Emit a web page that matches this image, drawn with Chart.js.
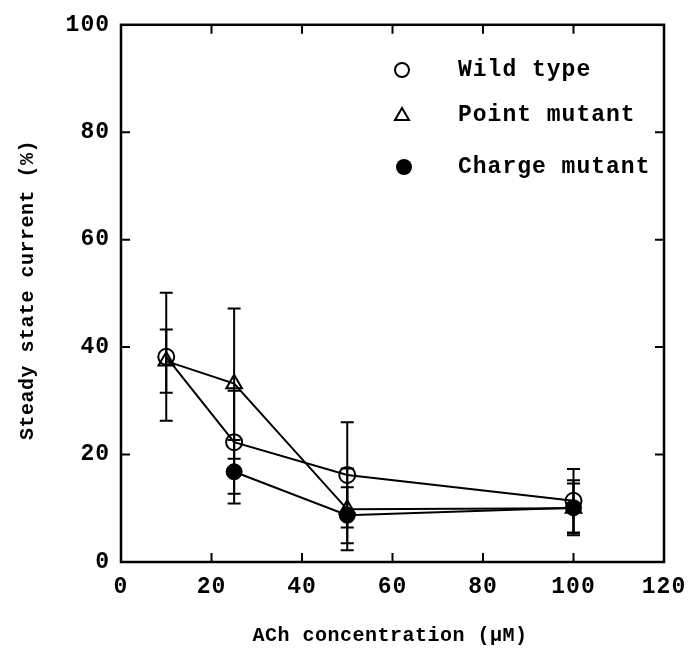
<!DOCTYPE html>
<html>
<head>
<meta charset="utf-8">
<style>
  html, body { margin: 0; padding: 0; background: #fff; }
  #wrap { width: 700px; height: 652px; position: relative; }
</style>
<script src="https://cdn.jsdelivr.net/npm/chart.js@4"></script>
</head>
<body>
<div id="wrap"><canvas id="c" width="700" height="652"></canvas></div>
<script>
// ---- data ----
const xTicks = [0, 20, 40, 60, 80, 100, 120];
const yTicks = [0, 20, 40, 60, 80, 100];

const wildX = [10, 25, 50, 100];
const wildY = [38.2, 22.3, 16.2, 11.4];
const wildErr = [11.9, 9.6, 9.8, 5.9];

const pointX = [10, 25, 50, 100];
const pointY = [37.4, 33.2, 9.8, 10.0];
const pointErr = [5.9, 14.0, 7.6, 4.6];

const chargeX = [25, 50, 100];
const chargeY = [16.8, 8.7, 10.1];
const chargeErr = [5.9, 5.2, 5.1];

const legendLabels = ['Wild type', 'Point mutant', 'Charge mutant'];
const xTitle = 'ACh concentration (\u03BCM)';
const yTitle = 'Steady state current (%)';

const toPts = (xs, ys) => xs.map((x, i) => ({ x: x, y: ys[i] }));

const FONT = 'Liberation Mono, DejaVu Sans Mono, monospace';

const spacingPlugin = {
  id: 'spacing',
  beforeUpdate(chart) { chart.ctx.letterSpacing = '1px'; },
  beforeLayout(chart) { chart.ctx.letterSpacing = '1px'; },
  beforeDraw(chart) { chart.ctx.letterSpacing = '1px'; }
};

const errPlugin = {
  id: 'errbars',
  afterDatasetsDraw(chart) {
    const ctx = chart.ctx;
    const xs = chart.scales.x, ys = chart.scales.y;
    ctx.save();
    ctx.strokeStyle = '#000';
    ctx.lineWidth = 2;
    chart.data.datasets.forEach(ds => {
      ds.data.forEach((p, i) => {
        const e = ds.err[i];
        const px = xs.getPixelForValue(p.x);
        const top = ys.getPixelForValue(p.y + e);
        const bot = ys.getPixelForValue(p.y - e);
        ctx.beginPath();
        ctx.moveTo(px, top); ctx.lineTo(px, bot);
        ctx.moveTo(px - 6.5, top); ctx.lineTo(px + 6.5, top);
        ctx.moveTo(px - 6.5, bot); ctx.lineTo(px + 6.5, bot);
        ctx.stroke();
      });
    });
    ctx.restore();
  }
};

const framePlugin = {
  id: 'frame',
  afterDraw(chart) {
    const ctx = chart.ctx;
    const a = chart.chartArea;
    const xs = chart.scales.x, ys = chart.scales.y;
    ctx.save();
    ctx.strokeStyle = '#000';
    ctx.lineWidth = 2.5;
    ctx.strokeRect(a.left, a.top, a.right - a.left, a.bottom - a.top);
    ctx.lineWidth = 2;
    ctx.beginPath();
    xTicks.forEach(v => {
      const px = xs.getPixelForValue(v);
      if (v === xTicks[0] || v === xTicks[xTicks.length - 1]) return;
      ctx.moveTo(px, a.bottom); ctx.lineTo(px, a.bottom - 9);
      ctx.moveTo(px, a.top); ctx.lineTo(px, a.top + 9);
    });
    yTicks.forEach(v => {
      const py = ys.getPixelForValue(v);
      if (v === yTicks[0] || v === yTicks[yTicks.length - 1]) return;
      ctx.moveTo(a.left, py); ctx.lineTo(a.left + 9, py);
      ctx.moveTo(a.right, py); ctx.lineTo(a.right - 9, py);
    });
    ctx.stroke();

    // axis titles
    ctx.fillStyle = '#000';
    ctx.letterSpacing = '0.5px';
    ctx.font = 'bold 20px ' + FONT;
    ctx.textAlign = 'center';
    ctx.textBaseline = 'middle';
    ctx.fillText(xTitle, 390, 636);
    ctx.save();
    ctx.translate(28, 290);
    ctx.rotate(-Math.PI / 2);
    ctx.fillText(yTitle, 0, 0);
    ctx.restore();

    // legend
    ctx.letterSpacing = '1px';
    ctx.font = 'bold 23px ' + FONT;
    ctx.textAlign = 'left';
    const ly = [70, 115, 167];
    ctx.fillText(legendLabels[0], 458, ly[0]);
    ctx.fillText(legendLabels[1], 458, ly[1]);
    ctx.fillText(legendLabels[2], 458, ly[2]);
    ctx.lineWidth = 2;
    ctx.beginPath();
    ctx.arc(402, ly[0], 7, 0, Math.PI * 2);
    ctx.stroke();
    ctx.beginPath();
    ctx.moveTo(402, ly[1] - 7); ctx.lineTo(409, ly[1] + 5); ctx.lineTo(395, ly[1] + 5); ctx.closePath();
    ctx.stroke();
    ctx.beginPath();
    ctx.arc(404, ly[2], 8, 0, Math.PI * 2);
    ctx.fill();
    ctx.restore();
  }
};

new Chart(document.getElementById('c'), {
  type: 'scatter',
  data: {
    datasets: [
      { label: legendLabels[0], data: toPts(wildX, wildY), err: wildErr, showLine: true,
        borderColor: '#000', borderWidth: 2, pointStyle: 'circle', pointRadius: 8,
        pointBorderWidth: 2, pointBackgroundColor: 'rgba(255,255,255,0)', pointBorderColor: '#000' },
      { label: legendLabels[1], data: toPts(pointX, pointY), err: pointErr, showLine: true,
        borderColor: '#000', borderWidth: 2, pointStyle: 'triangle', pointRadius: 9,
        pointBorderWidth: 2, pointBackgroundColor: 'rgba(255,255,255,0)', pointBorderColor: '#000' },
      { label: legendLabels[2], data: toPts(chargeX, chargeY), err: chargeErr, showLine: true,
        borderColor: '#000', borderWidth: 2, pointStyle: 'circle', pointRadius: 8,
        pointBorderWidth: 1, pointBackgroundColor: '#000', pointBorderColor: '#000' }
    ]
  },
  options: {
    responsive: false,
    animation: false,
    layout: { padding: { left: 0, right: 36, top: 20, bottom: 0 } },
    plugins: { legend: { display: false }, tooltip: { enabled: false } },
    scales: {
      x: {
        type: 'linear', min: 0, max: 120,
        afterFit(s) { s.height = 90; },
        afterBuildTicks(s) { s.ticks = xTicks.map(v => ({ value: v })); },
        grid: { display: false, drawTicks: false },
        border: { display: false },
        ticks: { autoSkip: false, maxRotation: 0, padding: 11, color: '#000',
                 font: { family: FONT, size: 23, weight: 'bold' } }
      },
      y: {
        type: 'linear', min: 0, max: 100,
        afterFit(s) { s.width = 121; },
        afterBuildTicks(s) { s.ticks = yTicks.map(v => ({ value: v })); },
        grid: { display: false, drawTicks: false },
        border: { display: false },
        ticks: { autoSkip: false, padding: 11, color: '#000',
                 font: { family: FONT, size: 23, weight: 'bold' } }
      }
    }
  },
  plugins: [spacingPlugin, errPlugin, framePlugin]
});
</script>
</body>
</html>
